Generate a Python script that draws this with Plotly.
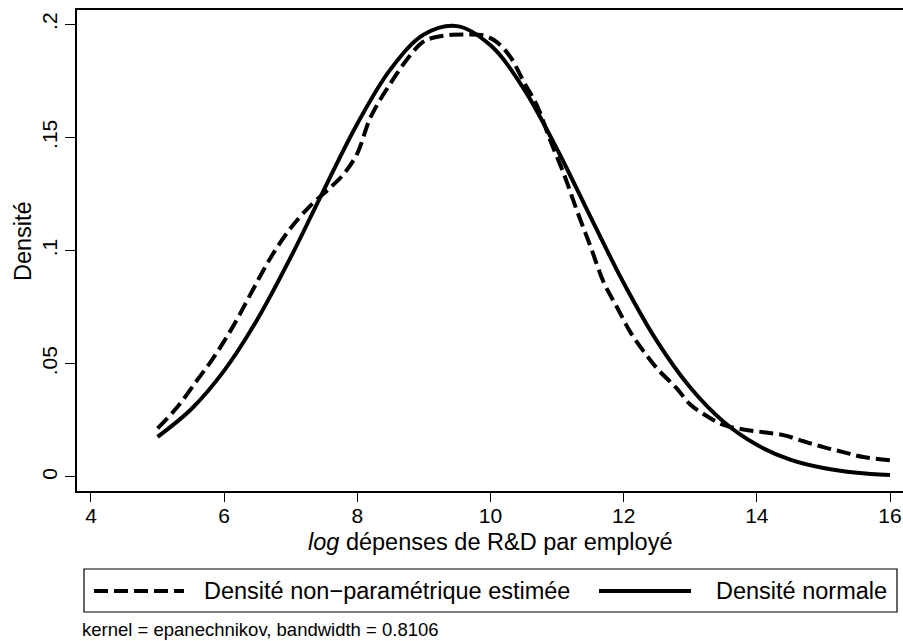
import plotly.graph_objects as go

# ---- data ----
x_kde = [5.0, 5.3, 5.6, 5.8, 6.0, 6.2, 6.4, 6.7, 7.0, 7.3, 7.6, 7.8, 8.0, 8.2, 8.5, 8.8,
         9.0, 9.3, 9.6, 9.9, 10.1, 10.3, 10.5, 10.7, 10.9, 11.1, 11.3, 11.5, 11.7, 11.9,
         12.1, 12.3, 12.5, 12.8, 13.0, 13.2, 13.5, 13.8, 14.1, 14.4, 14.7, 15.0, 15.3,
         15.6, 16.0]
y_kde = [0.0215, 0.031, 0.043, 0.051, 0.060, 0.070, 0.081, 0.097, 0.110, 0.120, 0.128,
         0.134, 0.143, 0.159, 0.174, 0.1865, 0.1925, 0.195, 0.1955, 0.195, 0.192, 0.1855,
         0.1745, 0.164, 0.1485, 0.134, 0.1175, 0.102, 0.086, 0.075, 0.064, 0.0555, 0.048,
         0.039, 0.032, 0.0278, 0.023, 0.021, 0.0198, 0.0185, 0.0158, 0.0132, 0.011,
         0.0088, 0.0074]

x_norm = [5.0, 5.5, 6.0, 6.5, 7.0, 7.5, 8.0, 8.5, 9.0, 9.5, 10.0, 10.5, 11.0, 11.5, 12.0,
          12.5, 13.0, 13.5, 14.0, 14.5, 15.0, 15.5, 16.0]
y_norm = [0.0177, 0.0298, 0.0470, 0.0697, 0.0971, 0.1270, 0.1561, 0.1802, 0.1955, 0.1992,
          0.1907, 0.1715, 0.1448, 0.1150, 0.0857, 0.0600, 0.0395, 0.0244, 0.0142, 0.0077,
          0.0040, 0.0019, 0.0009]

x_ticks = [4, 6, 8, 10, 12, 14, 16]
y_ticks = [0, 0.05, 0.1, 0.15, 0.2]
y_tick_labels = ["0", ".05", ".1", ".15", ".2"]

label_kde = "Densité non−paramétrique estimée"
label_norm = "Densité normale"
x_title = "<i>log</i> dépenses de R&D par employé"
y_title = "Densité"
note = "kernel = epanechnikov, bandwidth = 0.8106"

# ---- layout geometry (pixels) ----
W, H = 903, 641
L, R, T, B = 77, 0, 10, 150
PW, PH = W - L - R, H - T - B
BOTTOM = H - B


def px_x(p):
    return (p - L) / PW


def px_y(p):
    return (BOTTOM - p) / PH


FONT = "Liberation Sans, Arial, Helvetica, sans-serif"
DASH = "14px,6px"

fig = go.Figure()
fig.add_trace(go.Scatter(x=x_kde, y=y_kde, mode="lines", name=label_kde,
                         line=dict(color="black", width=4, dash=DASH, shape="spline")))
fig.add_trace(go.Scatter(x=x_norm, y=y_norm, mode="lines", name=label_norm,
                         line=dict(color="black", width=4, shape="spline")))

fig.update_layout(
    width=W, height=H,
    margin=dict(l=L, r=R, t=T, b=B, pad=0),
    plot_bgcolor="white", paper_bgcolor="white",
    showlegend=False,
    font=dict(family=FONT, color="black"),
    xaxis=dict(range=[3.79, 16.195], tickvals=x_ticks, ticks="outside", ticklen=9,
               tickwidth=1, tickcolor="black", showline=True, linewidth=2,
               linecolor="black", mirror=True, showgrid=False, zeroline=False,
               ticklabelstandoff=-4,
               tickfont=dict(size=21, family=FONT, color="black")),
    yaxis=dict(range=[-0.00619, 0.20632], tickvals=y_ticks, ticktext=y_tick_labels,
               tickangle=-90, ticks="outside", ticklen=10, tickwidth=1,
               tickcolor="black", showline=True, linewidth=2, linecolor="black",
               showgrid=False, zeroline=False,
               tickfont=dict(size=21, family=FONT, color="black")),
)

annotations = [
    dict(text=x_title, xref="paper", yref="paper", x=0.5, y=px_y(542),
         xanchor="center", yanchor="middle", showarrow=False,
         font=dict(size=23.5, family=FONT, color="black")),
    dict(text=y_title, xref="paper", yref="paper", x=px_x(23), y=px_y(241),
         xanchor="center", yanchor="middle", textangle=-90, showarrow=False,
         font=dict(size=23.5, family=FONT, color="black")),
    dict(text=note, xref="paper", yref="paper", x=px_x(80), y=px_y(629),
         xanchor="left", yanchor="middle", showarrow=False,
         font=dict(size=18.5, family=FONT, color="black")),
    dict(text=label_kde, xref="paper", yref="paper", x=px_x(202), y=px_y(591),
         xanchor="left", yanchor="middle", showarrow=False,
         font=dict(size=23.5, family=FONT, color="black")),
    dict(text=label_norm, xref="paper", yref="paper", x=px_x(714), y=px_y(591),
         xanchor="left", yanchor="middle", showarrow=False,
         font=dict(size=23.5, family=FONT, color="black")),
]
fig.update_layout(annotations=annotations)

shapes = [
    dict(type="rect", xref="paper", yref="paper", x0=px_x(84), x1=px_x(897),
         y0=px_y(612), y1=px_y(569), line=dict(color="black", width=1.2),
         fillcolor="white"),
    dict(type="line", xref="paper", yref="paper", x0=px_x(94), x1=px_x(184),
         y0=px_y(591), y1=px_y(591), line=dict(color="black", width=4, dash=DASH)),
    dict(type="line", xref="paper", yref="paper", x0=px_x(599), x1=px_x(691),
         y0=px_y(591), y1=px_y(591), line=dict(color="black", width=4)),
]
fig.update_layout(shapes=shapes)

fig.write_html(
    "out.html",
    config={"displayModeBar": False},
    post_script="document.body.style.margin='0';document.body.style.overflow='hidden';",
)
